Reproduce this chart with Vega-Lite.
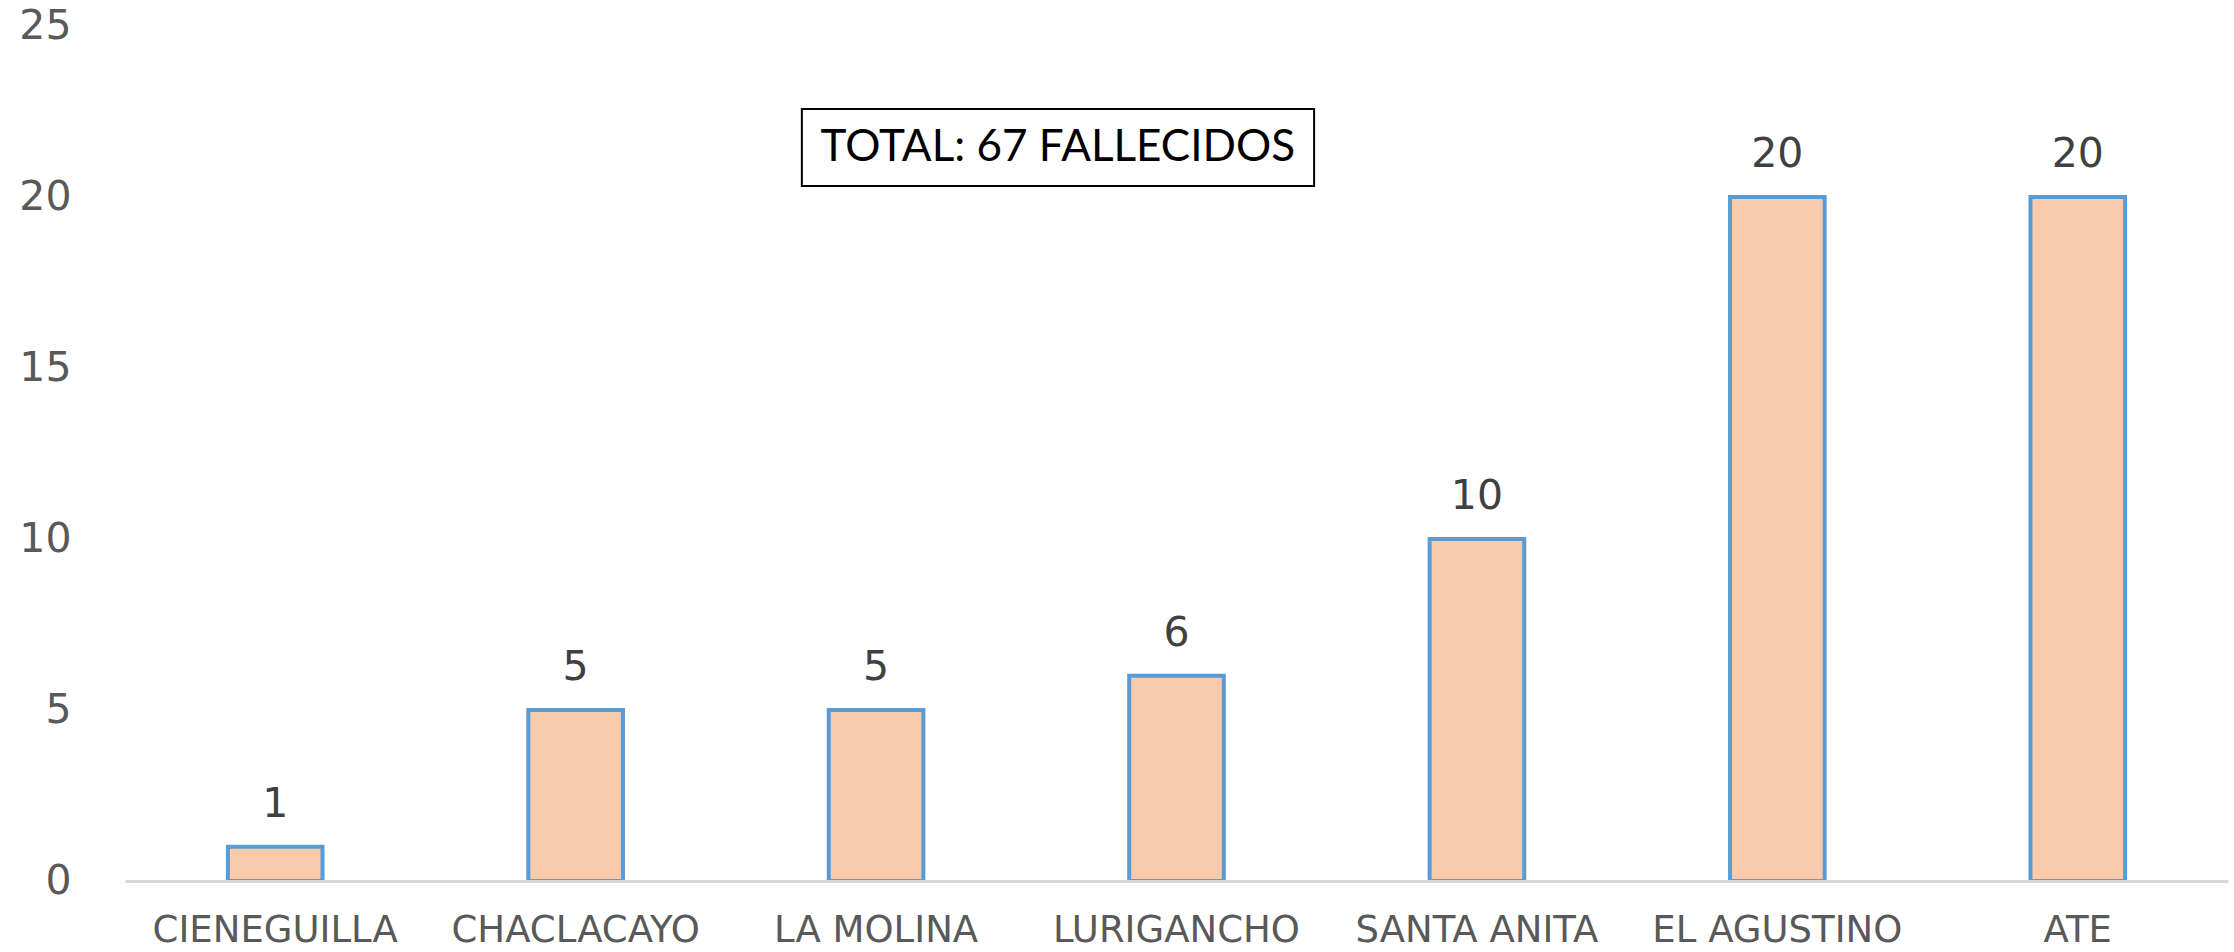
{
  "$schema": "https://vega.github.io/schema/vega-lite/v6.json",
  "autosize": {"type": "none"},
  "padding": {"left": 125, "top": 26, "right": 6, "bottom": 71},
  "width": 2103,
  "height": 855,
  "background": "white",
  "config": {"view": {"stroke": null}},
  "layer": [
    {
      "data": {
        "values": [
          {"distrito": "CIENEGUILLA", "fallecidos": 1},
          {"distrito": "CHACLACAYO", "fallecidos": 5},
          {"distrito": "LA MOLINA", "fallecidos": 5},
          {"distrito": "LURIGANCHO", "fallecidos": 6},
          {"distrito": "SANTA ANITA", "fallecidos": 10},
          {"distrito": "EL AGUSTINO", "fallecidos": 20},
          {"distrito": "ATE", "fallecidos": 20}
        ]
      },
      "encoding": {
        "x": {
          "field": "distrito",
          "type": "nominal",
          "sort": null,
          "scale": {"paddingInner": 0.685, "paddingOuter": 0.3425},
          "axis": {
            "title": null,
            "labelAngle": 0,
            "labelFont": "DejaVu Sans",
            "labelFontSize": 37,
            "labelColor": "#595959",
            "labelPadding": 31,
            "labelOverlap": false,
            "labelLimit": 0,
            "ticks": false,
            "domainColor": "#D9D9D9",
            "domainWidth": 3,
            "zindex": 1
          }
        },
        "y": {
          "field": "fallecidos",
          "type": "quantitative",
          "scale": {"domain": [0, 25], "nice": false},
          "axis": {
            "title": null,
            "values": [0, 5, 10, 15, 20, 25],
            "grid": false,
            "domain": false,
            "ticks": false,
            "labelFont": "DejaVu Sans",
            "labelFontSize": 41,
            "labelColor": "#595959",
            "labelPadding": 54,
            "labelBaseline": "middle"
          }
        }
      },
      "layer": [
        {"mark": {"type": "bar", "fill": "#F8CBAD", "stroke": "#5B9BD5", "strokeWidth": 4}},
        {
          "mark": {"type": "text", "baseline": "alphabetic", "dy": -30, "font": "DejaVu Sans", "fontSize": 41, "color": "#404040"},
          "encoding": {"text": {"field": "fallecidos", "type": "quantitative"}}
        }
      ]
    },
    {
      "data": {"values": [{"x1": 2.253, "x2": 3.958, "y1": 20.32, "y2": 22.57, "xc": 3.105, "yc": 21.445, "label": "TOTAL: 67 FALLECIDOS"}]},
      "layer": [
        {
          "mark": {"type": "rect", "fill": "white", "stroke": "black", "strokeWidth": 2},
          "encoding": {
            "x": {"field": "x1", "type": "quantitative", "scale": {"domain": [0, 7], "nice": false, "zero": false}, "axis": null},
            "x2": {"field": "x2"},
            "y": {"field": "y1", "type": "quantitative"},
            "y2": {"field": "y2"}
          }
        },
        {
          "mark": {"type": "text", "font": "Lato", "fontSize": 44, "color": "black", "baseline": "middle", "align": "center"},
          "encoding": {
            "x": {"field": "xc", "type": "quantitative"},
            "y": {"field": "yc", "type": "quantitative"},
            "text": {"field": "label"}
          }
        }
      ]
    }
  ],
  "resolve": {"scale": {"x": "independent"}}
}
